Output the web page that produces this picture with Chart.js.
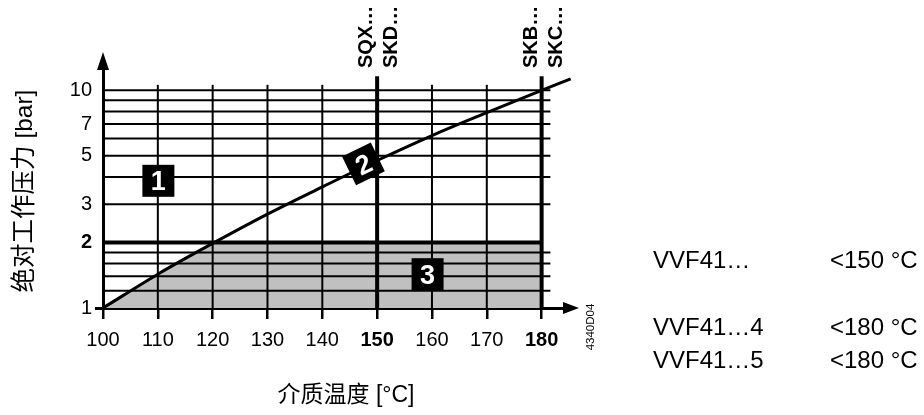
<!DOCTYPE html>
<html><head><meta charset="utf-8">
<script src="https://cdn.jsdelivr.net/npm/chart.js@4/dist/chart.umd.min.js"></script>
<style>html,body{margin:0;padding:0;background:#fff}canvas{display:block}</style>
</head><body><canvas id="c" width="924" height="415"></canvas>
<script>
// ---- data ----
const curveTemperatures = [100, 110, 120, 130, 140, 150, 160, 170, 180, 185.3];
const curvePressures    = [1.0, 1.43, 1.98, 2.7, 3.6, 4.76, 6.2, 7.9, 10.0, 11.3];
const shadeTemperatures = [100, 110, 120, 180];
const shadePressures    = [1.0, 1.43, 1.98, 2.0];
const limitPressure = 2;
const limitTemperature = 180;
const minorPressureLines = [1.2, 1.4, 1.6, 1.8, 3, 4, 5, 6, 7, 8, 9, 10];
const minorTemperatureLines = [110, 120, 130, 140, 160, 170];
const majorTemperatureLines = [150, 180];
const gridTemperatureEnd = 181.6;
const minorGridPressureTop = 10.6;
const majorGridPressureTop = 11.6;
const xMin = 100, xMax = 183.9;
const yMin = 1, yMax = 12.4;
const xTickValues = [100, 110, 120, 130, 140, 150, 160, 170, 180];
const xBoldTicks = [150, 180];
const yTickValues = [1, 2, 3, 5, 7, 10];
const yBoldTicks = [2];
const zoneNumbers = ['1', '2', '3'];
const zoneTemperatures = [110.1, 147.5, 159.2];
const zonePressures = [3.84, 4.59, 1.43];
const zoneAngles = [0, -26, 0];
const seriesTopLabels = [['SQX…', 'SKD…'], ['SKB…', 'SKC…']];
const tableModels = ['VVF41…', 'VVF41…4', 'VVF41…5'];
const tableLimits = ['<150 °C', '<180 °C', '<180 °C'];
const xTitle = '介质温度 [°C]';
const yTitle = '绝对工作压力 [bar]';
const figureCode = '4340D04';

// ---- build datasets ----
const FONT = '"Liberation Sans", Arial, "Noto Sans CJK SC", sans-serif';
const seg = (pts, w, order) => ({
  data: pts, borderColor: '#000', borderWidth: w, pointRadius: 0, fill: false,
  order: order, clip: false, tension: 0, borderCapStyle: 'butt'
});
const datasets = [];
datasets.push({
  data: shadeTemperatures.map((t, i) => ({x: t, y: shadePressures[i]})),
  borderWidth: 0, borderColor: 'rgba(0,0,0,0)', backgroundColor: '#c0c0c0',
  pointRadius: 0, fill: {value: yMin}, order: 100, tension: 0
});
minorPressureLines.forEach(p => datasets.push(seg([{x: xMin, y: p}, {x: gridTemperatureEnd, y: p}], 2, 50)));
minorTemperatureLines.forEach(t => datasets.push(seg([{x: t, y: yMin}, {x: t, y: minorGridPressureTop}], 2, 50)));
majorTemperatureLines.forEach(t => datasets.push(seg([{x: t, y: yMin}, {x: t, y: majorGridPressureTop}], 4, 40)));
datasets.push(seg([{x: xMin, y: limitPressure}, {x: limitTemperature, y: limitPressure}], 4, 40));
datasets.push(Object.assign(seg(curveTemperatures.map((t, i) => ({x: t, y: curvePressures[i]})), 3, 10),
  {cubicInterpolationMode: 'monotone'}));

const decorations = {
  id: 'decorations',
  afterDatasetsDraw(chart) {
    const {ctx, chartArea: a, scales: {x, y}} = chart;
    ctx.save();
    // arrowheads
    ctx.fillStyle = '#000';
    ctx.beginPath();
    ctx.moveTo(a.left - 6, a.top); ctx.lineTo(a.left + 6, a.top); ctx.lineTo(a.left, a.top - 18); ctx.closePath(); ctx.fill();
    ctx.beginPath();
    ctx.moveTo(a.right, a.bottom - 6); ctx.lineTo(a.right, a.bottom + 6); ctx.lineTo(a.right + 16, a.bottom); ctx.closePath(); ctx.fill();
    // zone boxes
    zoneNumbers.forEach((n, i) => {
      const px = x.getPixelForValue(zoneTemperatures[i]);
      const py = y.getPixelForValue(zonePressures[i]);
      ctx.save();
      ctx.translate(px, py);
      ctx.rotate(zoneAngles[i] * Math.PI / 180);
      ctx.fillStyle = '#000';
      ctx.fillRect(-16, -16, 32, 32);
      ctx.fillStyle = '#fff';
      ctx.font = 'bold 27px ' + FONT;
      ctx.textAlign = 'center';
      ctx.textBaseline = 'alphabetic';
      ctx.fillText(n, 0, 27 * 0.358);
      ctx.restore();
    });
    ctx.restore();
  },
  afterDraw(chart) {
    const {ctx, scales: {x, y}} = chart;
    ctx.save();
    ctx.fillStyle = '#000';
    // vertical series labels
    ctx.font = 'bold 20px ' + FONT;
    majorTemperatureLines.forEach((t, i) => {
      const px = x.getPixelForValue(t);
      seriesTopLabels[i].forEach((lab, j) => {
        ctx.save();
        ctx.translate(px + (j === 0 ? -5 : 20), 68);
        ctx.rotate(-Math.PI / 2);
        ctx.textAlign = 'left';
        ctx.textBaseline = 'alphabetic';
        ctx.fillText(lab, 0, 0);
        ctx.restore();
      });
    });
    // axis titles
    ctx.textAlign = 'center';
    ctx.textBaseline = 'middle';
    ctx.font = '23px ' + FONT;
    ctx.fillText(xTitle, 346, 396);
    ctx.save();
    ctx.font = '24.5px ' + FONT;
    ctx.translate(25, 191);
    ctx.rotate(-Math.PI / 2);
    ctx.fillText(yTitle, 0, 0);
    ctx.restore();
    // figure code
    ctx.save();
    ctx.font = '11.5px ' + FONT;
    ctx.translate(591, 327);
    ctx.rotate(-Math.PI / 2);
    ctx.fillText(figureCode, 0, 0);
    ctx.restore();
    // table
    ctx.font = '24px ' + FONT;
    ctx.textAlign = 'left';
    ctx.textBaseline = 'alphabetic';
    const rowBase = [268, 335, 368];
    tableModels.forEach((m, i) => {
      ctx.fillText(m, 653, rowBase[i]);
      ctx.fillText(tableLimits[i], 830, rowBase[i]);
    });
    ctx.restore();
  }
};

new Chart(document.getElementById('c'), {
  type: 'line',
  data: {datasets},
  plugins: [decorations],
  options: {
    responsive: false, animation: false, devicePixelRatio: 1,
    layout: {padding: {left: 0, top: 70, right: 361, bottom: 0}},
    plugins: {legend: {display: false}, tooltip: {enabled: false}},
    scales: {
      x: {
        type: 'linear', min: xMin, max: xMax,
        afterBuildTicks: s => { s.ticks = xTickValues.map(v => ({value: v})); },
        afterFit: s => { s.height = 107; },
        grid: {drawOnChartArea: false, drawTicks: true, tickLength: 11, color: '#000', lineWidth: 2.5},
        border: {display: true, color: '#000', width: 3},
        ticks: {
          color: '#000', padding: 9, maxRotation: 0, autoSkip: false,
          font: c => ({family: FONT, size: 20, weight: xBoldTicks.includes(c.tick && c.tick.value) ? 'bold' : 'normal'})
        }
      },
      y: {
        type: 'logarithmic', min: yMin, max: yMax,
        afterBuildTicks: s => { s.ticks = yTickValues.map(v => ({value: v})); },
        afterFit: s => { s.width = 103; },
        grid: {drawOnChartArea: false, drawTicks: true, tickLength: 8,
          color: c => (c.tick && c.tick.value === yMin) ? '#000' : 'rgba(0,0,0,0)', lineWidth: 3},
        border: {display: true, color: '#000', width: 3},
        ticks: {
          color: '#000', padding: 3, autoSkip: false,
          callback: v => String(v),
          font: c => ({family: FONT, size: 20, weight: yBoldTicks.includes(c.tick && c.tick.value) ? 'bold' : 'normal'})
        }
      }
    }
  }
});
</script>
</body></html>
